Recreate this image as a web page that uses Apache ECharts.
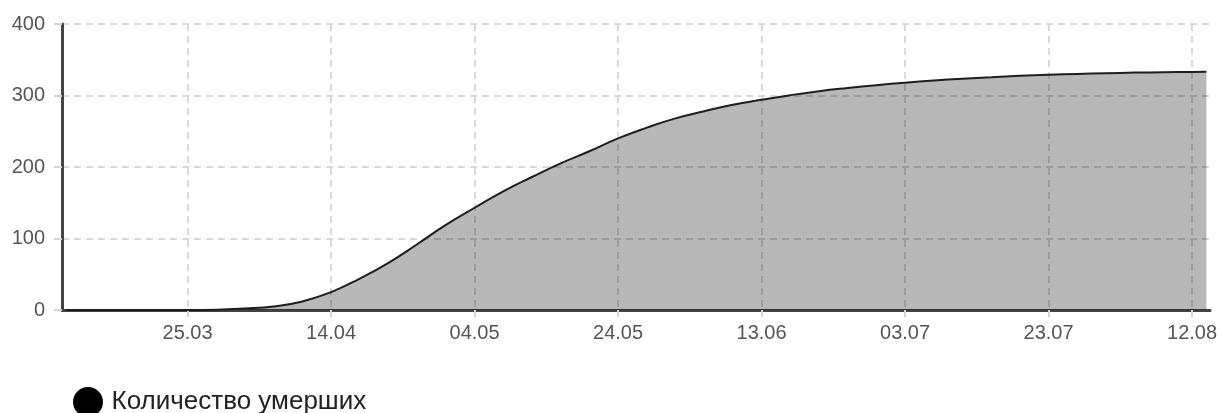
<!DOCTYPE html>
<html>
<head>
<meta charset="utf-8">
<script src="https://cdn.jsdelivr.net/npm/echarts@6/dist/echarts.min.js"></script>
<style>
html,body{margin:0;padding:0;background:#fff;}
#chart{width:1221px;height:413px;}
</style>
</head>
<body>
<div id="chart"></div>
<script>
// Dates (dd.mm, 2020) and cumulative deaths
const dates = ['08.03','09.03','13.03','17.03','21.03','25.03','29.03','02.04','06.04','10.04',
  '14.04','18.04','22.04','26.04','30.04','04.05','08.05','12.05','16.05','20.05',
  '24.05','28.05','01.06','05.06','09.06','13.06','17.06','21.06','25.06','29.06',
  '03.07','07.07','11.07','15.07','19.07','23.07','27.07','31.07','04.08','08.08',
  '12.08','14.08'];
const deaths = [0,0,0,0,0,0,0.5,2,5,12,
  25,44,66,92,119,143,166,186,205,222,
  240,255,268,278,287,294,300.5,306,310.5,314.5,
  318,321,323.5,325.5,327.5,329,330.2,331.2,332,332.6,
  333,333.3];
const tickLabels = ['25.03','14.04','04.05','24.05','13.06','03.07','23.07','12.08'];
const yTicks = [0,100,200,300,400];
const seriesName = 'Количество умерших';

const origin = Date.UTC(2020, 2, 1);
function dayOf(s){
  const [d,m] = s.split('.').map(Number);
  return Math.round((Date.UTC(2020, m-1, d) - origin) / 86400000);
}
const tickDays = tickLabels.map(dayOf);
const labelByDay = {};
tickLabels.forEach((l,i)=>{ labelByDay[tickDays[i]] = l; });
const firstDay = dayOf(dates[0]);
const lastDay = dayOf(dates[dates.length-1]);

const chart = echarts.init(document.getElementById('chart'));
const font = '"Liberation Sans", Arial, sans-serif';
chart.setOption({
  animation: false,
  backgroundColor: '#fff',
  grid: { left: 62, right: 11, top: 24, bottom: 103, containLabel: false },
  legend: {
    data: [{ name: seriesName, icon: 'circle' }],
    left: 68, top: 382,
    itemWidth: 37, itemHeight: 30,
    textStyle: { fontFamily: font, fontSize: 26, color: '#222' }
  },
  xAxis: {
    type: 'value',
    min: firstDay - 0.5,
    max: lastDay + 0.5,
    axisLine: { show: true, onZero: false, lineStyle: { color: '#444', width: 3 } },
    axisTick: { show: true, customValues: tickDays, length: 7, lineStyle: { color: '#d4d4d4', width: 2 } },
    axisLabel: {
      customValues: tickDays,
      formatter: v => labelByDay[Math.round(v)] || '',
      fontFamily: font, fontSize: 20, color: '#555', margin: 13
    },
    splitLine: { show: true, lineStyle: { color: '#d9d9d9', width: 2, type: [7,5] } }
  },
  yAxis: {
    type: 'value',
    min: yTicks[0], max: yTicks[yTicks.length-1], interval: 100,
    axisLine: { show: true, lineStyle: { color: '#444', width: 3 } },
    axisTick: { show: true, length: 8, lineStyle: { color: '#d4d4d4', width: 2 } },
    axisLabel: { fontFamily: font, fontSize: 20, color: '#555', margin: 17 },
    splitLine: { show: true, lineStyle: { color: '#d9d9d9', width: 2, type: [7,5] } }
  },
  series: [{
    name: seriesName,
    type: 'line',
    data: dates.map((d,i)=>[dayOf(d), deaths[i]]),
    showSymbol: false,
    smooth: 0.5,
    color: '#000',
    lineStyle: { color: '#1e1e1e', width: 2 },
    areaStyle: { color: 'rgba(0,0,0,0.28)', opacity: 1 }
  }]
});
</script>
</body>
</html>
